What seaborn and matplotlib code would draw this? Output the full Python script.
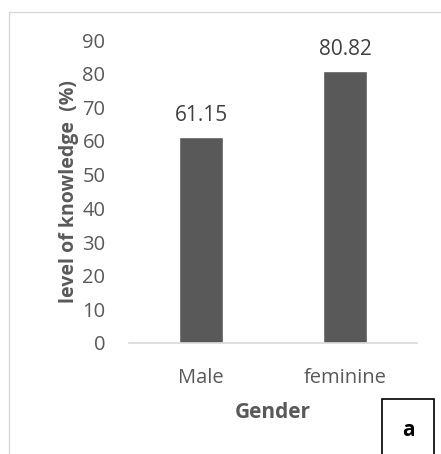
import matplotlib
matplotlib.use("Agg")
import matplotlib.pyplot as plt
import seaborn as sns
import pandas as pd
from matplotlib.patches import Rectangle

genders = ["Male", "feminine"]
knowledge = [61.15, 80.82]
yticks = [0, 10, 20, 30, 40, 50, 60, 70, 80, 90]

df = pd.DataFrame({"Gender": genders, "level": knowledge})

sns.set_style("white")
plt.rcParams["font.family"] = ["Open Sans", "DejaVu Sans"]

W, H = 441, 454
fig = plt.figure(figsize=(W / 100, H / 100), dpi=100)
ax = fig.add_axes([129 / W, 1 - 343 / H, (417 - 129) / W, (343 - 40) / H])

sns.barplot(data=df, x="Gender", y="level", color="#595959", saturation=1,
            width=0.31, ax=ax)

for i, v in enumerate(knowledge):
    ax.text(i, v + 3.3, f"{v:.2f}", ha="center", va="bottom",
            fontsize=15, color="#404040")

ax.set_ylim(0, 90)
ax.set_yticks(yticks)
ax.tick_params(axis="both", length=0, labelsize=14.5, colors="#595959")
ax.tick_params(axis="y", pad=17)
ax.tick_params(axis="x", pad=18)
for s in ["top", "right", "left"]:
    ax.spines[s].set_visible(False)
ax.spines["bottom"].set_color("#D9D9D9")
ax.spines["bottom"].set_linewidth(1.2)

ax.set_xlabel("Gender", fontsize=15, fontweight="bold", color="#595959", labelpad=10)
ax.set_ylabel("level of knowledge  (%)", fontsize=14, fontweight="bold",
              color="#595959", labelpad=2)

# outer chart border
fig.patches.append(Rectangle((9 / W, -0.1), 1.0, 1 - 12 / H + 0.1,
                             transform=fig.transFigure, fill=False,
                             edgecolor="#D9D9D9", linewidth=1))
# panel letter box
fig.patches.append(Rectangle((382 / W, -0.05), 52 / W, 1 - 399 / H + 0.05,
                             transform=fig.transFigure, fill=False,
                             edgecolor="black", linewidth=1.2))
fig.text(408 / W, 1 - 431 / H, "a", ha="center", va="center",
         fontsize=15, fontweight="bold", color="black")

fig.savefig("out.png", dpi=100)
